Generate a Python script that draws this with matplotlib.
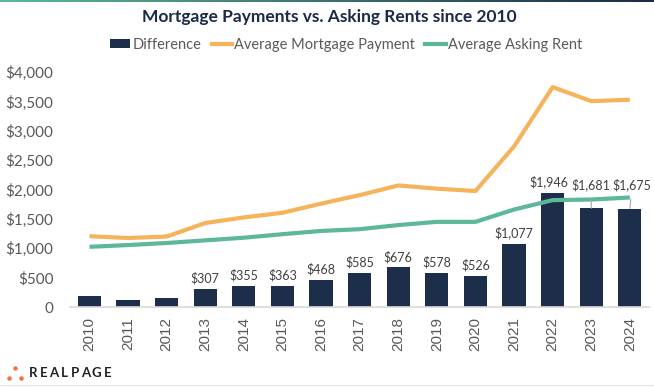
import numpy as np
import matplotlib
matplotlib.use("Agg")
import matplotlib.pyplot as plt
from matplotlib.lines import Line2D
from matplotlib.patches import Patch

# data
years = ["2010", "2011", "2012", "2013", "2014", "2015", "2016", "2017",
         "2018", "2019", "2020", "2021", "2022", "2023", "2024"]
difference = [190, 125, 145, 307, 355, 363, 468, 585, 676, 578, 526, 1077, 1946, 1681, 1675]
mortgage = [1205, 1175, 1200, 1430, 1525, 1605, 1760, 1905, 2070, 2015, 1975, 2735, 3745, 3505, 3530]
rent = [1025, 1055, 1090, 1135, 1180, 1240, 1295, 1325, 1395, 1450, 1450, 1660, 1820, 1830, 1865]
labelled = [False, False, False] + [True] * 12
y_ticks = [0, 500, 1000, 1500, 2000, 2500, 3000, 3500, 4000]
y_tick_labels = ["0", "$500", "$1,000", "$1,500", "$2,000", "$2,500", "$3,000", "$3,500", "$4,000"]

NAVY = "#1c2e4a"
ORANGE = "#f5b45c"
TEAL = "#5cb898"
GRAY = "#595959"
FONT = "Lato"

plt.rcParams["font.family"] = [FONT, "DejaVu Sans"]

fig = plt.figure(figsize=(6.54, 3.87), dpi=100)
ax = fig.add_axes([0.1073, 0.2067, 0.8853, 0.607])

x = np.arange(len(years))
ax.bar(x, difference, width=0.6, color=NAVY, zorder=2)
ax.plot(x, mortgage, color=ORANGE, lw=3, zorder=3, solid_capstyle="butt")
ax.plot(x, rent, color=TEAL, lw=3, zorder=3, solid_capstyle="butt")

# bar value labels, the last two lifted above the rent line with leader lines
for i, v in enumerate(difference):
    if not labelled[i]:
        continue
    txt = f"${v:,}"
    if years[i] in ("2023", "2024"):
        dx = 0.06 if years[i] == "2024" else 0.0
        ax.annotate(txt, xy=(i, v), xytext=(i + dx, 2085), ha="center", va="center",
                    fontsize=9, color="#404040", zorder=4,
                    arrowprops=dict(arrowstyle="-", color="#a6a6a6", lw=0.8,
                                    shrinkA=4, shrinkB=0))
    else:
        dx = -3 if years[i] == "2022" else 0
        ax.annotate(txt, xy=(i, v), xytext=(dx, 3), textcoords="offset points",
                    ha="center", va="bottom", fontsize=9, color="#404040", zorder=4)

ax.set_xlim(-0.5, len(years) - 0.5)
ax.set_ylim(0, 4000)
ax.set_yticks(y_ticks)
ax.set_yticklabels(y_tick_labels, fontsize=11, color=GRAY)
ax.set_xticks(x)
ax.set_xticklabels(years, rotation=90, fontsize=11, color=GRAY, family="Liberation Sans")
ax.tick_params(axis="y", length=0, pad=12)
ax.tick_params(axis="x", length=0, pad=7)
for s in ["top", "right", "left"]:
    ax.spines[s].set_visible(False)
ax.spines["bottom"].set_color("#d9d9d9")
ax.spines["bottom"].set_linewidth(1.2)

fig.text(0.503, 0.955, "Mortgage Payments vs. Asking Rents since 2010", ha="center",
         va="center", fontsize=12.5, fontweight="bold", color="#1b2a47")

handles = [Patch(facecolor=NAVY, edgecolor="none"),
           Line2D([], [], color=ORANGE, lw=3),
           Line2D([], [], color=TEAL, lw=3)]
fig.legend(handles, ["Difference", "Average Mortgage Payment", "Average Asking Rent"],
           loc="center", bbox_to_anchor=(0.529, 0.884), ncol=3, frameon=False,
           fontsize=10.5, labelcolor=GRAY, handlelength=1.4, handleheight=0.6,
           handletextpad=0.15, columnspacing=0.7, borderaxespad=0)

# gradient strip along the top edge
strip = fig.add_axes([0, 0.994, 1, 0.006])
strip.imshow(np.linspace(0, 1, 256).reshape(1, -1), aspect="auto",
             cmap=matplotlib.colors.LinearSegmentedColormap.from_list("g", [TEAL, "#1b2a47"]))
strip.axis("off")

# footer logo
fig.add_artist(Line2D([0, 1], [0.004, 0.004], color="#e6e6e6", lw=1))
for px, py in [(15, 368), (9.3, 377.5), (20.7, 377.5)]:
    fig.add_artist(Line2D([px / 654], [1 - py / 387], marker="o", ms=3.2,
                          color="#f2703f", mec="none"))
for k, ch in enumerate("REALPAGE"):
    fig.text((33 + k * 10.6) / 654, 1 - 373 / 387, ch, ha="center", va="center",
             fontsize=9.5, fontweight="bold", color="#231f20")

fig.savefig("out.png", dpi=100)
